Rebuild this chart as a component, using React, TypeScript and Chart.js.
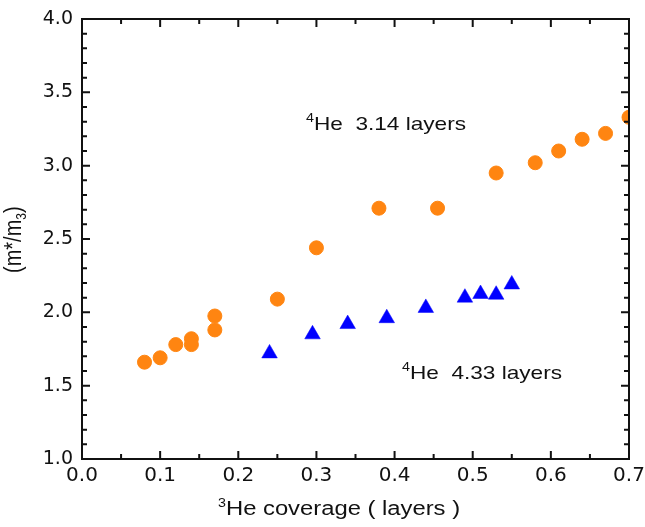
import React, { useEffect, useRef } from "react";
import { Chart, registerables } from "chart.js";

Chart.register(...registerables);

const he314X = [0.08, 0.1, 0.12, 0.14, 0.14, 0.17, 0.17, 0.25, 0.3, 0.38, 0.455, 0.53, 0.58, 0.61, 0.64, 0.67, 0.7];
const he314Y = [1.66, 1.69, 1.78, 1.82, 1.78, 1.975, 1.88, 2.09, 2.44, 2.71, 2.71, 2.95, 3.02, 3.1, 3.18, 3.22, 3.33];
const he433X = [0.24, 0.295, 0.34, 0.39, 0.44, 0.49, 0.51, 0.53, 0.55];
const he433Y = [1.72, 1.85, 1.92, 1.96, 2.03, 2.1, 2.125, 2.12, 2.19];

const xMajor = [0, 0.1, 0.2, 0.3, 0.4, 0.5, 0.6, 0.7];
const xMinor = [0.05, 0.15, 0.25, 0.35, 0.45, 0.55, 0.65];
const yMajor = [1, 1.5, 2, 2.5, 3, 3.5, 4];
const yMinor = [1.1, 1.2, 1.3, 1.4, 1.6, 1.7, 1.8, 1.9, 2.1, 2.2, 2.3, 2.4, 2.6, 2.7, 2.8, 2.9, 3.1, 3.2, 3.3, 3.4, 3.6, 3.7, 3.8, 3.9];

const FONT = "'Liberation Sans', Arial, sans-serif";
const TICK_FONT = "'DejaVu Sans', sans-serif";
const INK = "#111";

type Seg = { t: string; kind?: "sup" | "sub" };

function drawRich(ctx: CanvasRenderingContext2D, segs: Seg[], size: number) {
  let cx = 0;
  for (const s of segs) {
    const sz = s.kind ? Math.round(size * 0.62) : size;
    ctx.font = `${sz}px ${FONT}`;
    const dy = s.kind === "sup" ? -size * 0.42 : s.kind === "sub" ? size * 0.22 : 0;
    ctx.fillText(s.t, cx, dy);
    cx += ctx.measureText(s.t).width;
  }
}

function drawText(ctx: CanvasRenderingContext2D, segs: Seg[], x: number, y: number, size: number, sx: number) {
  ctx.save();
  ctx.translate(x, y);
  ctx.scale(sx, 1);
  drawRich(ctx, segs, size);
  ctx.restore();
}

const framePlugin = {
  id: "frameTicks",
  afterDatasetsDraw(chart: any) {
    const { ctx, chartArea: a, scales } = chart;
    const xs = scales.x;
    const ys = scales.y;
    ctx.save();
    ctx.strokeStyle = INK;
    ctx.lineWidth = 2;
    ctx.strokeRect(a.left, a.top, a.right - a.left, a.bottom - a.top);
    ctx.beginPath();
    const tickX = (vals: number[], len: number) => {
      for (const v of vals) {
        const px = xs.getPixelForValue(v);
        ctx.moveTo(px, a.bottom);
        ctx.lineTo(px, a.bottom - len);
        ctx.moveTo(px, a.top);
        ctx.lineTo(px, a.top + len);
      }
    };
    const tickY = (vals: number[], len: number) => {
      for (const v of vals) {
        const py = ys.getPixelForValue(v);
        ctx.moveTo(a.left, py);
        ctx.lineTo(a.left + len, py);
        ctx.moveTo(a.right, py);
        ctx.lineTo(a.right - len, py);
      }
    };
    tickX(xMajor, 8);
    tickX(xMinor, 5);
    tickY(yMajor, 8);
    tickY(yMinor, 5);
    ctx.stroke();

    ctx.fillStyle = INK;
    ctx.textBaseline = "alphabetic";
    ctx.textAlign = "left";
    drawText(ctx, [{ t: "4", kind: "sup" }, { t: "He  3.14 layers" }], 306, 130, 19, 1.19);
    drawText(ctx, [{ t: "4", kind: "sup" }, { t: "He  4.33 layers" }], 402, 379, 19, 1.19);
    drawText(ctx, [{ t: "3", kind: "sup" }, { t: "He coverage ( layers )" }], 218, 515, 20, 1.19);

    ctx.save();
    ctx.translate(21, 273);
    ctx.rotate(-Math.PI / 2);
    ctx.scale(1, 1.15);
    drawRich(ctx, [{ t: "(m*/m" }, { t: "3", kind: "sub" }, { t: ")" }], 20);
    ctx.restore();
    ctx.restore();
  },
};

export default function App() {
  const ref = useRef<HTMLCanvasElement | null>(null);
  useEffect(() => {
    document.body.style.margin = "0";
    const canvas = ref.current;
    if (!canvas) return;
    const chart = new Chart(canvas, {
      type: "scatter",
      data: {
        datasets: [
          {
            label: "4He 3.14 layers",
            data: he314X.map((x, i) => ({ x, y: he314Y[i] })),
            pointStyle: "circle",
            pointRadius: 7,
            pointBackgroundColor: "rgb(255,133,17)",
            pointBorderColor: "rgb(255,133,17)",
            pointBorderWidth: 1,
            clip: 0,
          },
          {
            label: "4He 4.33 layers",
            data: he433X.map((x, i) => ({ x, y: he433Y[i] })),
            pointStyle: "triangle",
            pointRadius: 9,
            pointBackgroundColor: "#0000ff",
            pointBorderColor: "#0000ff",
            pointBorderWidth: 0.5,
            clip: 0,
          },
        ],
      },
      options: {
        responsive: false,
        animation: false,
        events: [],
        layout: { padding: { left: 0, top: 19, right: 16, bottom: 0 } },
        plugins: { legend: { display: false }, tooltip: { enabled: false } },
        scales: {
          x: {
            type: "linear",
            min: 0,
            max: 0.7,
            grid: { display: false, drawTicks: false },
            border: { display: false },
            ticks: {
              stepSize: 0.1,
              autoSkip: false,
              maxRotation: 0,
              padding: 5,
              color: INK,
              font: { family: TICK_FONT, size: 20 },
              callback: (v: any) => Number(v).toFixed(1),
            },
            afterFit: (s: any) => {
              s.height = 68;
              s.paddingLeft = 0;
              s.paddingRight = 0;
            },
          },
          y: {
            type: "linear",
            min: 1,
            max: 4,
            grid: { display: false, drawTicks: false },
            border: { display: false },
            ticks: {
              stepSize: 0.5,
              autoSkip: false,
              padding: 9,
              color: INK,
              font: { family: TICK_FONT, size: 19 },
              callback: (v: any) => Number(v).toFixed(1),
            },
            afterFit: (s: any) => {
              s.width = 82;
              s.paddingTop = 0;
              s.paddingBottom = 0;
            },
          },
        },
      },
      plugins: [framePlugin],
    });
    return () => chart.destroy();
  }, []);
  return <canvas ref={ref} width={645} height={527} style={{ display: "block" }} />;
}
